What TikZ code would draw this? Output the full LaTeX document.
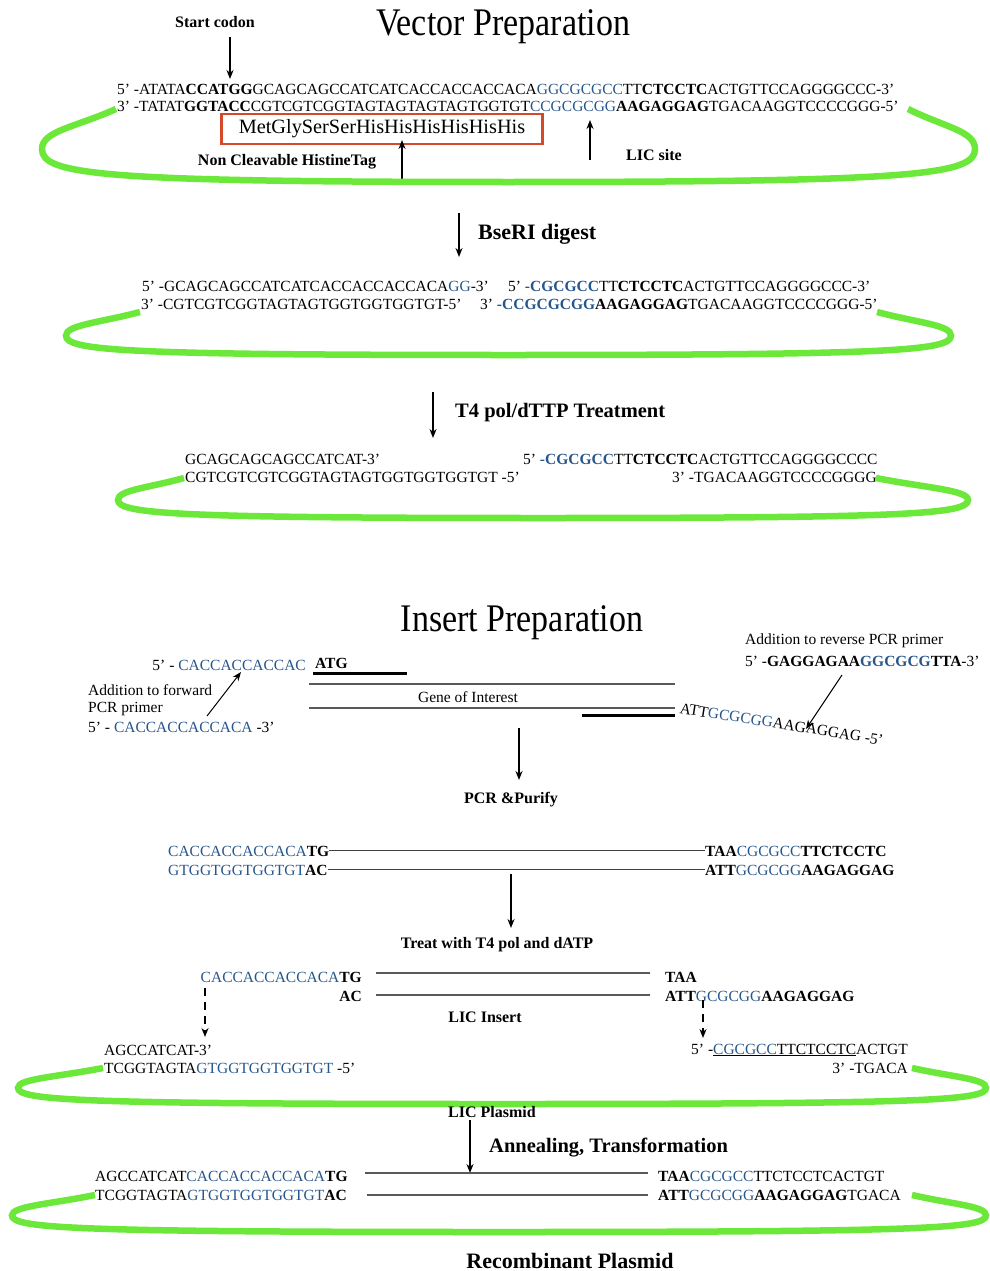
\documentclass[tikz,border=0pt]{standalone}
\usepackage{fontspec}
\setmainfont{Liberation Serif}
\usetikzlibrary{arrows.meta}
\definecolor{licBlue}{RGB}{38,86,138}
\definecolor{plasmidGreen}{RGB}{108,232,58}
\definecolor{tagRed}{RGB}{214,72,42}
\newcommand{\seqfont}{\fontsize{15.5}{18}\selectfont}
\newcommand{\bl}[1]{\textcolor{licBlue}{#1}}
\newcommand{\plasmidloop}[6]{%
  \draw[plasmid] (#1,#2)
    .. controls ({#1-0.55*(#1-#3)},{#2+0.25*(#4-#2)}) and (#3,{#2+0.3*(#4-#2)}) .. (#3,{#2+0.55*(#4-#2)})
    .. controls (#3,{#2+0.9*(#4-#2)}) and ({#3+60},#4) .. ({(#3+#6)/2},#4)
    .. controls ({#6-60},#4) and (#6,{#2+0.9*(#4-#2)}) .. (#6,{#2+0.55*(#4-#2)})
    .. controls (#6,{#2+0.3*(#4-#2)}) and ({#5+0.55*(#6-#5)},{#2+0.25*(#4-#2)}) .. (#5,#2);}

\begin{document}
\begin{tikzpicture}[
  x=1pt, y=-1pt,
  seq/.style={inner sep=0pt, font=\seqfont},
  note/.style={inner sep=0pt, anchor=west, font=\seqfont},
  lab/.style={inner sep=0pt, font=\bfseries\fontsize{16}{19}\selectfont},
  biglab/.style={inner sep=0pt, anchor=west, font=\bfseries\fontsize{20.5}{24}\selectfont},
  heading/.style={inner sep=0pt, font=\fontsize{34}{40}\selectfont},
  arrow/.style={-{Stealth[length=9pt,width=7pt]}, line width=1.6pt},
  dasharrow/.style={arrow, dash pattern=on 8pt off 6pt},
  strand/.style={line width=1.1pt, black!65},
  duplex/.style={black!75, line width=0.9pt, double=white, double distance=1pt},
  bar/.style={line width=3pt},
  plasmid/.style={line width=6.5pt, plasmidGreen}
]
  \useasboundingbox (0,0) rectangle (989,1271);

  \node[heading] (vtitle) at (503,27) {\scalebox{1}[1.15]{Vector Preparation}};
  \node[lab] (codon) at (215,22) {Start codon};
  \coordinate (codonA) at (230,37);
  \coordinate (codonB) at (230,79);
  \draw[arrow] (codonA) -- (codonB);
  \node[seq, anchor=west] (vtop) at (117,89)
    {5’ -ATATA\textbf{CCATGG}GCAGCAGCCATCATCACCACCACCACA\bl{GGCGCGCC}TT\textbf{CTCCTC}ACTGTTCCAGGGGCCC-3’};
  \node[seq, anchor=west] (vbot) at (117,106)
    {3’ -TATAT\textbf{GGTACC}CGTCGTCGGTAGTAGTAGTAGTGGTGT\bl{CCGCGCGG}\textbf{AAGAGGAG}TGACAAGGTCCCCGGG-5’};
  \node[draw=tagRed, line width=2.2pt, minimum width=321pt, minimum height=30pt, inner sep=0pt,
    font=\fontsize{20.3}{24}\selectfont] (tag) at (382,129) {MetGlySerSerHisHisHisHisHisHis};
  \node[lab] (tagnote) at (287,162) {Non Cleavable HistineTag};
  \coordinate (hisA) at (402,179);
  \coordinate (hisB) at (402,140);
  \draw[arrow] (hisA) -- (hisB);
  \node[lab] (licsite) at (654,155) {LIC site};
  \coordinate (licA) at (590,160);
  \coordinate (licB) at (590,120);
  \draw[arrow] (licA) -- (licB);
  \plasmidloop{116}{109}{42}{182}{908}{975}

  \coordinate (digA) at (459,213);
  \coordinate (digB) at (459,257);
  \draw[arrow] (digA) -- (digB);
  \node[biglab, font=\bfseries\fontsize{22}{26}\selectfont] (bseri) at (478,234) {BseRI digest};
  \node[seq, anchor=west] (cutTL) at (142,286) {5’ -GCAGCAGCCATCATCACCACCACCACA\bl{GG}-3’};
  \node[seq, anchor=west] (cutTR) at (508,286)
    {5’ \bl{\textbf{-CGCGCC}}TT\textbf{CTCCTC}ACTGTTCCAGGGGCCC-3’};
  \node[seq, anchor=west] (cutBL) at (141,304) {3’ -CGTCGTCGGTAGTAGTGGTGGTGGTGT-5’};
  \node[seq, anchor=west] (cutBR) at (480,304)
    {3’ \bl{\textbf{-CCGCGCGG}}\textbf{AAGAGGAG}TGACAAGGTCCCCGGG-5’};
  \plasmidloop{140}{312}{66}{355}{877}{951}

  \coordinate (tfourA) at (433,392);
  \coordinate (tfourB) at (433,438);
  \draw[arrow] (tfourA) -- (tfourB);
  \node[biglab] (tfour) at (455,413) {T4 pol/dTTP Treatment};
  \node[seq, anchor=west] (chewTL) at (185,459) {GCAGCAGCAGCCATCAT-3’};
  \node[seq, anchor=west] (chewTR) at (523,459)
    {5’ \bl{\textbf{-CGCGCC}}TT\textbf{CTCCTC}ACTGTTCCAGGGGCCCC};
  \node[seq, anchor=west] (chewBL) at (185,477) {CGTCGTCGTCGGTAGTAGTGGTGGTGGTGT -5’};
  \node[seq, anchor=west] (chewBR) at (672,477) {3’ -TGACAAGGTCCCCGGGG};
  \plasmidloop{184}{478}{118}{518}{876}{968}

  \node[heading] (ititle) at (522,623) {\scalebox{1}[1.15]{Insert Preparation}};
  \node[seq, anchor=east] (fwdtail) at (306,665) {5’ - \bl{CACCACCACCAC}};
  \node[seq, anchor=west] (atg) at (315,663) {\textbf{ATG}};
  \draw[bar] (313,673) -- (407,673);
  \draw[strand] (309,684) -- (675,684);
  \node[seq] (gene) at (468,697) {Gene of Interest};
  \draw[strand] (309,708) -- (675,708);
  \draw[bar] (582,715) -- (675,715);
  \node[seq, anchor=west, rotate=-9] (revtail) at (680,708) {ATT\bl{GCGCGG}AAGAGGAG -5’};
  \node[note] (revnote) at (745,641) {Addition to reverse PCR primer};
  \node[note] (revprimer) at (745,661)
    {5’ -\textbf{GAGGAGAA}\bl{\textbf{GGCGCG}}\textbf{TTA}-3’};
  \coordinate (revA) at (842,675);
  \coordinate (revB) at (806,729);
  \draw[arrow, line width=1pt] (revA) -- (revB);
  \node[note] (fwdnote) at (88,690) {Addition to forward};
  \node[note] (fwdnote2) at (88,709) {PCR primer};
  \node[note] (fwdprimer) at (88,727) {5’ - \bl{CACCACCACCACA} -3’};
  \coordinate (fwdA) at (207,716);
  \coordinate (fwdB) at (241,672);
  \draw[arrow, line width=1pt] (fwdA) -- (fwdB);
  \coordinate (pcrA) at (519,728);
  \coordinate (pcrB) at (519,780);
  \draw[arrow] (pcrA) -- (pcrB);
  \node[lab] (pcr) at (511,800) {PCR \&Purify};

  \node[seq, anchor=west] (ampTL) at (168,851) {\bl{CACCACCACCACA}\textbf{TG}};
  \node[seq, anchor=west] (ampTR) at (705,851) {\textbf{TAA}\bl{CGCGCC}\textbf{TTCTCCTC}};
  \node[seq, anchor=west] (ampBL) at (168,870) {\bl{GTGGTGGTGGTGT}\textbf{AC}};
  \node[seq, anchor=west] (ampBR) at (705,870) {\textbf{ATT}\bl{GCGCGG}\textbf{AAGAGGAG}};
  \draw[duplex] (ampTL.east) -- (ampTR.west);
  \draw[duplex] (ampBL.east) -- (ampBR.west);
  \coordinate (treatA) at (511,874);
  \coordinate (treatB) at (511,928);
  \draw[arrow] (treatA) -- (treatB);
  \node[lab] (treat) at (497,945) {Treat with T4 pol and dATP};

  \node[seq, anchor=east] (insTL) at (362,977) {\bl{CACCACCACCACA}\textbf{TG}};
  \node[seq, anchor=west] (insTR) at (665,977) {\textbf{TAA}};
  \node[seq, anchor=east] (insBL) at (362,996) {\textbf{AC}};
  \node[seq, anchor=west] (insBR) at (665,996) {\textbf{ATT}\bl{GCGCGG}\textbf{AAGAGGAG}};
  \draw[strand] (376,973) -- (650,973);
  \draw[strand] (376,995) -- (650,995);
  \node[lab] (licins) at (485,1017) {LIC Insert};
  \coordinate (dashLA) at (205,988);
  \coordinate (dashLB) at (205,1037);
  \draw[dasharrow] (dashLA) -- (dashLB);
  \coordinate (dashRA) at (703,1000);
  \coordinate (dashRB) at (703,1038);
  \draw[dasharrow] (dashRA) -- (dashRB);
  \node[seq, anchor=west] (openTL) at (104,1050) {AGCCATCAT-3’};
  \node[seq, anchor=west] (openBL) at (104,1068) {TCGGTAGTA\bl{GTGGTGGTGGTGT} -5’};
  \node[seq, anchor=east] (openTR) at (908,1050) {5’ -\underline{\bl{CGCGCC}TTCTCCTC}ACTGT};
  \node[seq, anchor=east] (openBR) at (908,1068) {3’ -TGACA};
  \plasmidloop{103}{1068}{18}{1104}{912}{986}
  \node[lab] (licpl) at (492,1112) {LIC Plasmid};

  \coordinate (annA) at (470,1120);
  \coordinate (annB) at (470,1173);
  \draw[arrow] (annA) -- (annB);
  \node[biglab] (anneal) at (489,1148) {Annealing, Transformation};
  \node[seq, anchor=west] (recTL) at (95,1176) {AGCCATCAT\bl{CACCACCACCACA}\textbf{TG}};
  \node[seq, anchor=west] (recBL) at (95,1195) {TCGGTAGTA\bl{GTGGTGGTGGTGT}\textbf{AC}};
  \node[seq, anchor=west] (recTR) at (658,1176) {\textbf{TAA}\bl{CGCGCC}TTCTCCTCACTGT};
  \node[seq, anchor=west] (recBR) at (658,1195) {\textbf{ATT}\bl{GCGCGG}\textbf{AAGAGGAG}TGACA};
  \draw[strand] (365,1173) -- (648,1173);
  \draw[strand] (367,1195) -- (648,1195);
  \plasmidloop{95}{1195}{12}{1232}{912}{986}
  \node[lab, font=\bfseries\fontsize{22}{26}\selectfont] (recomb) at (570,1261) {Recombinant Plasmid};
\end{tikzpicture}
\end{document}
